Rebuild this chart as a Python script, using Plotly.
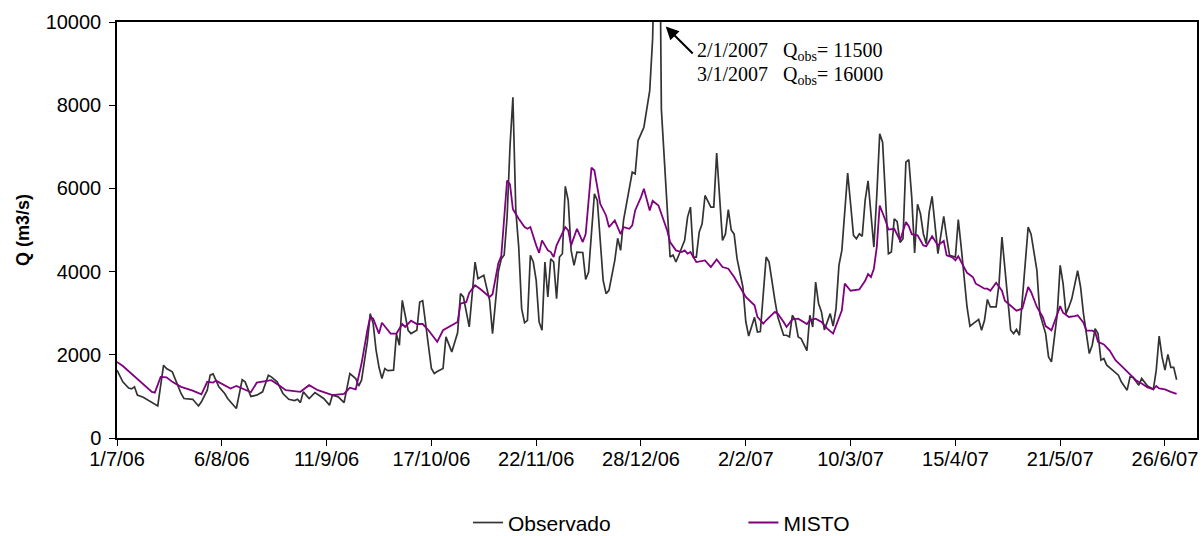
import pandas as pd
import plotly.graph_objects as go

start = pd.Timestamp("2006-07-01")

# Observed discharge (day offset from 1/7/2006, m3/s)
obs_day = [0, 2, 4, 5, 6, 7, 9, 14, 16, 17, 19, 22, 23, 26, 28, 29, 31, 32, 33, 35, 37, 38, 41, 43, 44, 46,
           48, 50, 52, 53, 55, 57, 59, 61, 62, 63, 64, 66, 68, 71, 73, 74, 76, 78, 80, 82, 83, 84, 86, 87,
           88, 89, 90, 91, 92, 93, 95, 96, 97, 98, 99, 100, 101, 103, 104, 105, 108, 109, 110, 112, 113,
           115, 117, 118, 119, 121, 123, 124, 126, 128, 129, 131, 132, 133, 134, 135, 136, 137, 138, 139,
           140, 141, 142, 143, 144, 145, 146, 147, 148, 149, 150, 151, 152, 153, 154, 155, 156, 157, 158,
           160, 161, 162, 164, 165, 167, 168, 169, 171, 172, 173, 174, 176, 177, 178, 179, 181, 182, 183,
           184, 185, 186, 187, 190, 191, 192, 193, 195, 196, 197, 198, 199, 200, 201, 202, 204, 205, 206,
           208, 209, 210, 211, 212, 213, 215, 216, 217, 219, 220, 221, 223, 224, 226, 227, 229, 230, 231,
           232, 233, 234, 235, 237, 238, 239, 240, 241, 242, 243, 245, 246, 247, 248, 249, 250, 251, 252,
           253, 254, 255, 256, 257, 258, 259, 260, 261, 262, 263, 264, 265, 266, 267, 268, 269, 270, 271,
           272, 273, 274, 275, 276, 277, 278, 279, 280, 281, 282, 283, 284, 285, 286, 288, 289, 290, 291,
           292, 293, 295, 296, 297, 298, 299, 300, 302, 303, 304, 305, 306, 307, 308, 309, 310, 311, 312,
           313, 314, 316, 317, 319, 320, 321, 323, 324, 325, 326, 327, 328, 330, 331, 332, 333, 334, 335,
           336, 337, 338, 339, 340, 342, 344, 345, 347, 348, 349, 351, 352, 354, 355, 356, 357, 358, 359,
           360, 361, 362, 363, 364]
obs_q = [1630, 1350, 1200, 1180, 1230, 1030, 980, 770, 1750, 1670, 1590, 1070, 950, 930, 770, 870, 1150, 1510,
         1540, 1230, 1070, 950, 710, 1400, 1350, 1000,
         1030, 1110, 1510, 1470, 1350, 1070, 930, 900, 930, 850, 1110, 950, 1090, 950, 790, 1030, 990, 850,
         1550, 1430, 1250, 1390, 2310, 2990,
         2750, 2110, 1700, 1430, 1670, 1620, 1630, 2500, 2230, 3310, 2950, 2590, 2510, 2590, 3270, 3300, 1670,
         1550, 1600, 1670, 2430,
         2070, 2530, 3470, 3390, 2670, 4230, 3830, 3910, 3310, 2510, 4000, 4300, 4400, 5300, 7000, 8190, 5470,
         4590, 3110,
         2770, 2830, 4390, 4230, 3790, 2790, 2590, 4230, 3390, 4310, 4230, 3350, 4350, 4430, 6050, 5710, 4510,
         4150, 4470,
         4460, 3810, 3990, 5870, 5710, 3790, 3470, 3550, 4270, 4800, 4510, 5230, 6000, 6390, 6350, 7150, 7470,
         7950, 8350,
         9600, 11500, 16000, 7900, 4350, 4400, 4230, 4400, 4750, 5310, 5550, 4350, 4350, 4950, 5150, 5830,
         5550, 5550, 6850,
         4750, 4900, 5490, 5000, 4900, 4310, 3630, 2800, 2450, 2900, 2550, 2560, 4350, 4230, 3310, 2910, 2470,
         2470, 2430,
         2950, 2830, 2430, 2390, 2100, 2950, 2670, 3750, 3230, 3030, 2600, 2990, 2690, 3110, 4150, 4510, 5470,
         6370, 5630,
         4870, 4790, 4910, 4850, 5710, 6180, 5310, 4590, 5830, 7310, 7110, 5630, 4430, 4470, 5270, 5200, 4700,
         4790, 6630,
         6690, 5790, 4450, 5620, 5390, 4910, 4670, 5430, 5810, 5030, 4430, 4870, 5330, 4830, 4390, 4350, 5250,
         4590, 3950,
         3150, 2690, 2790, 2850, 2590, 2830, 3330, 3150, 3150, 3710, 4830, 4110, 3310, 2590, 2510, 2610, 2470,
         3300, 4270,
         5070, 4900, 4030, 2990, 2510, 1950, 1830, 2990, 4150, 3710, 2990, 3150, 3350, 4020, 3630, 2990, 2450,
         2030, 2230,
         2630, 2510, 1870, 1910, 1750, 1630, 1510, 1350, 1150, 1470, 1460, 1270, 1430, 1250, 1215, 1170, 1630,
         2450, 1950,
         1630, 2010, 1700, 1700, 1400]

# MISTO model discharge (day offset from 1/7/2006, m3/s)
misto_day = [0, 2, 12, 13, 15, 17, 19, 22, 26, 28, 29, 31, 33, 34, 37, 39, 41, 42, 46, 48, 53, 56, 58, 63, 66,
             69, 71, 74, 78, 80, 82, 84, 86, 87, 88, 90, 91, 94, 96, 98, 99, 101, 103, 105, 107, 110, 112,
             117, 118, 120, 121, 123, 125, 128, 129, 131, 132, 134, 135, 136, 138, 140, 141, 142, 144, 145,
             146, 148, 149, 150, 151, 152, 154, 155, 156, 158, 160, 161, 163, 164, 166, 168, 169, 171, 173,
             174, 176, 177, 178, 180, 181, 183, 184, 186, 187, 189, 190, 192, 194, 195, 196, 197, 199, 202,
             204, 206, 208, 210, 212, 214, 216, 219, 220, 222, 223, 226, 227, 229, 230, 232, 234, 237, 238,
             240, 242, 244, 246, 249, 250, 252, 255, 257, 258, 259, 260, 261, 262, 264, 265, 267, 268, 269,
             271, 272, 273, 275, 277, 278, 280, 281, 282, 284, 285, 287, 288, 289, 291, 292, 294, 295, 296,
             298, 299, 300, 302, 304, 305, 307, 309, 311, 312, 313, 314, 316, 318, 319, 321, 324, 325, 327,
             329, 330, 332, 333, 335, 336, 337, 339, 341, 343, 346, 348, 350, 352, 354, 356, 357, 358, 360,
             362, 364]
misto_q = [1830, 1730, 1110, 1090, 1470, 1460, 1350, 1230, 1140, 1070, 1050, 1350, 1330, 1380, 1270, 1190,
           1250, 1220, 1100, 1330, 1390, 1250, 1150, 1110, 1270,
           1150, 1100, 1030, 1060, 1210, 1170, 1790, 2590, 2910, 2870, 2510, 2770, 2510, 2510, 2740, 2670,
           2820, 2740, 2740, 2590, 2310, 2590,
           2790, 3230, 3270, 3490, 3670, 3570, 3390, 3456, 4200, 4370, 6190, 6100, 5500, 5270, 5070, 5030,
           5070, 4630, 4450,
           4750, 4510, 4470, 4350, 4630, 4790, 5070, 4990, 4630, 5030, 4710, 4900, 6500, 6430, 5630, 5350,
           5070, 5230, 4900,
           5070, 5030, 5110, 5470, 5790, 5990, 5470, 5700, 5590, 5390, 4990, 4710, 4510, 4470, 4510, 4430,
           4470, 4230, 4270,
           4110, 4290, 4110, 4070, 3870, 3630, 3390, 3190, 2910, 2750, 2830, 3030, 2990, 2790, 2670, 2850,
           2870, 2740, 2830,
           2870, 2790, 2630, 2510, 3070, 3710, 3540, 3570, 3780, 3940, 3870, 4070, 4590, 5590, 5230, 5010,
           5030, 4870, 4750,
           5190, 5090, 4900, 4870, 4630, 4610, 4850, 4750, 4630, 4740, 4390, 4340, 4270, 4370, 4110, 3970,
           3870, 3710, 3670,
           3590, 3590, 3540, 3730, 3540, 3300, 3190, 3060, 3110, 3390, 3630, 3510, 3150, 2910, 2690, 2590,
           3170, 3010, 2910,
           2930, 2950, 2770, 2580, 2580, 2550, 2310, 2250, 2100, 1870, 1670, 1520, 1390, 1310, 1215, 1170,
           1250, 1190, 1170,
           1110, 1060]

tick_dates = ["2006-07-01", "2006-08-06", "2006-09-11", "2006-10-17", "2006-11-22", "2006-12-28",
              "2007-02-02", "2007-03-10", "2007-04-15", "2007-05-21", "2007-06-26"]
tick_labels = ["1/7/06", "6/8/06", "11/9/06", "17/10/06", "22/11/06", "28/12/06",
               "2/2/07", "10/3/07", "15/4/07", "21/5/07", "26/6/07"]

obs_x = [start + pd.Timedelta(days=d) for d in obs_day]
misto_x = [start + pd.Timedelta(days=d) for d in misto_day]

SANS = "Liberation Sans, Arial, sans-serif"
SERIF = "Liberation Serif, Times New Roman, serif"

fig = go.Figure()
fig.add_trace(go.Scatter(x=obs_x, y=obs_q, mode="lines", name="Observado", showlegend=True,
                         line=dict(color="#333333", width=1.7), legend="legend"))
fig.add_trace(go.Scatter(x=misto_x, y=misto_q, mode="lines", name="MISTO", showlegend=True,
                         line=dict(color="#800080", width=1.8), legend="legend2"))

fig.update_layout(
    width=1202, height=536,
    showlegend=True,
    margin=dict(l=117, r=5, t=22, b=98, autoexpand=False),
    paper_bgcolor="white", plot_bgcolor="white",
    font=dict(family=SANS, size=20, color="black"),
    legend=dict(orientation="h", x=0.325, xanchor="left", y=-0.204, yanchor="middle",
                font=dict(family=SANS, size=21), bgcolor="rgba(0,0,0,0)", visible=True),
    legend2=dict(orientation="h", x=0.58, xanchor="left", y=-0.204, yanchor="middle",
                 font=dict(family=SANS, size=21), bgcolor="rgba(0,0,0,0)", visible=True),
    xaxis=dict(type="date", range=["2006-07-01", "2007-07-07"],
               tickvals=tick_dates, ticktext=tick_labels,
               showgrid=False, zeroline=False, showline=True, linecolor="black", linewidth=1.5,
               mirror=True, ticks="outside", ticklen=6, tickcolor="black", tickwidth=1.2,
               tickfont=dict(family=SANS, size=20), ticklabelstandoff=-4),
    yaxis=dict(range=[0, 10000], dtick=2000, tick0=0, tickformat="d",
               showgrid=False, zeroline=False, showline=True, linecolor="black", linewidth=1.5,
               mirror=True, ticks="outside", ticklen=6, tickcolor="black", tickwidth=1.2,
               tickfont=dict(family=SANS, size=20), ticklabelstandoff=4),
)

# Y axis title
fig.add_annotation(xref="paper", yref="paper", x=-0.087, y=0.5, text="<b>Q (m3/s)</b>",
                   textangle=-90, showarrow=False, font=dict(family=SANS, size=18),
                   xanchor="center", yanchor="middle")

# Arrow pointing to the clipped peak
fig.add_annotation(x=start + pd.Timedelta(days=188.5), y=9890, xref="x", yref="y",
                   text=" ", showarrow=True, ax=29, ay=29, axref="pixel", ayref="pixel",
                   arrowhead=2, arrowsize=1.3, arrowwidth=2, arrowcolor="black",
                   font=dict(size=4))

fig.add_annotation(xref="paper", yref="paper", x=0.5352, y=0.928, xanchor="left", yanchor="middle",
                   text="2/1/2007\u00a0\u00a0\u00a0Q<sub>obs</sub>= 11500", showarrow=False,
                   font=dict(family=SERIF, size=20, color="black"))
fig.add_annotation(xref="paper", yref="paper", x=0.5352, y=0.871, xanchor="left", yanchor="middle",
                   text="3/1/2007\u00a0\u00a0\u00a0Q<sub>obs</sub>= 16000", showarrow=False,
                   font=dict(family=SERIF, size=20, color="black"))

fig.write_html("out.html")
